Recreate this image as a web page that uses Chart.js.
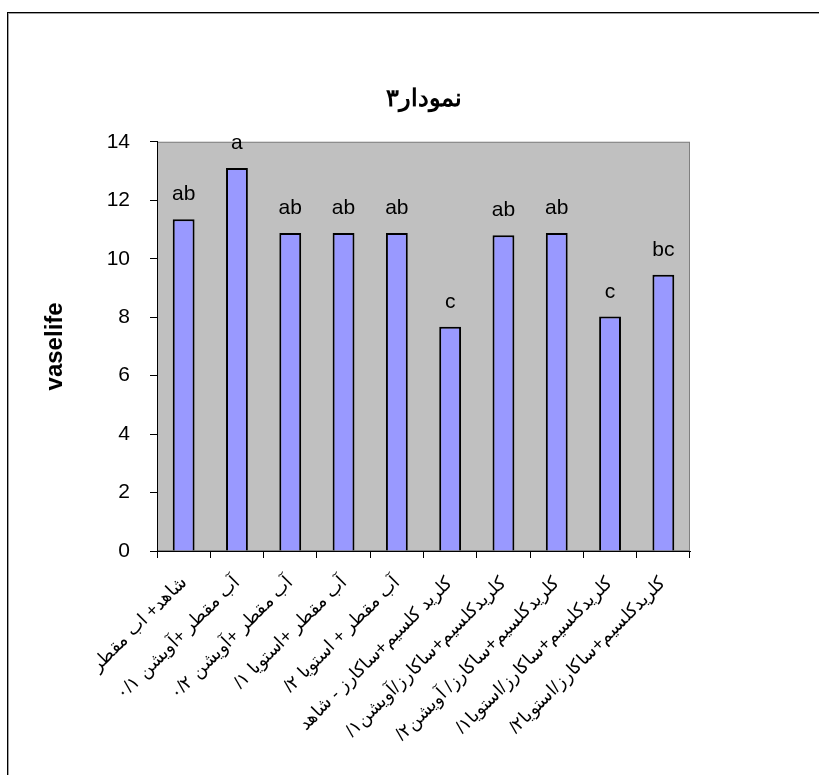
<!DOCTYPE html>
<html>
<head>
<meta charset="utf-8">
<script src="https://cdn.jsdelivr.net/npm/chart.js@4.4.0/dist/chart.umd.min.js"></script>
<style>
  html, body { margin: 0; padding: 0; overflow: hidden; background: #fff; }
  #wrap { position: relative; width: 819px; height: 775px; }
  #frame { position: absolute; left: 7px; top: 12px; width: 840px; height: 800px;
           border: 1.5px solid #000; box-shadow: inset 1px 1px 0 #a0a0a0; pointer-events: none; }
</style>
</head>
<body>
<div id="wrap">
  <canvas id="chart" width="819" height="775" dir="rtl"></canvas>
  <div id="frame"></div>
</div>
<script>
let treatments = [
  "شاهد+ اب مقطر",
  "آب مقطر +آویشن ۰/۱",
  "آب مقطر +آویشن ۰/۲",
  "آب مقطر +استویا ۱/",
  "آب مقطر + استویا ۲/",
  "کلرید کلسیم+ساکارز - شاهد",
  "کلریدکلسیم+ساکارز/آویشن۱/",
  "کلریدکلسیم+ساکارز/ آویشن۲/",
  "کلریدکلسیم+ساکارز/استویا۱/",
  "کلریدکلسیم+ساکارز/استویا۲/"
];
let vaselife = [11.35, 13.1, 10.88, 10.88, 10.88, 7.67, 10.8, 10.88, 8.02, 9.45];
let groupLetters = ["ab", "a", "ab", "ab", "ab", "c", "ab", "ab", "c", "bc"];

let plotBg = {
  id: "plotBg",
  beforeDraw(chart) {
    let a = chart.chartArea, ctx = chart.ctx;
    ctx.save();
    ctx.fillStyle = "#c0c0c0";
    ctx.fillRect(a.left, a.top, a.right - a.left, a.bottom - a.top);
    ctx.strokeStyle = "#808080";
    ctx.lineWidth = 1;
    ctx.strokeRect(a.left + 0.5, a.top + 0.5, a.right - a.left - 1, a.bottom - a.top - 1);
    ctx.restore();
  }
};

let letters = {
  id: "letters",
  afterDatasetsDraw(chart) {
    let ctx = chart.ctx;
    ctx.save();
    ctx.font = '21px "Liberation Sans", Arial, sans-serif';
    ctx.fillStyle = "#000";
    ctx.textAlign = "center";
    ctx.textBaseline = "alphabetic";
    chart.getDatasetMeta(0).data.forEach((bar, i) => {
      ctx.fillText(groupLetters[i], bar.x, bar.y - 19);
    });
    ctx.restore();
  }
};

new Chart("chart", {
  type: "bar",
  data: {
    labels: treatments,
    datasets: [{
      data: vaselife,
      backgroundColor: "#9999ff",
      borderColor: "#000",
      borderWidth: 2,
      barPercentage: 0.41,
      categoryPercentage: 1
    }]
  },
  plugins: [plotBg, letters],
  options: {
    responsive: false,
    animation: false,
    layout: { padding: { top: 85, left: 37, right: 129, bottom: 0 } },
    plugins: {
      legend: { display: false },
      tooltip: { enabled: false },
      title: {
        display: true,
        fullSize: false,
        text: "نمودار۳",
        color: "#000",
        font: { family: '"Liberation Sans", Arial, sans-serif', size: 24, weight: "bold", lineHeight: 1.2 },
        padding: { top: 0, bottom: 28 }
      }
    },
    scales: {
      x: {
        afterFit(scale) { scale.height = 224; },
        grid: { display: true, drawOnChartArea: false, offset: true, tickLength: 7, color: "#000" },
        border: { color: "#000", width: 1 },
        ticks: {
          color: "#000",
          minRotation: 45,
          maxRotation: 45,
          autoSkip: false,
          padding: 14,
          font: { family: '"Liberation Sans", Arial, sans-serif', size: 18 }
        }
      },
      y: {
        min: 0,
        max: 14,
        afterFit(scale) { scale.width = 120; },
        grid: { display: true, drawOnChartArea: false, tickLength: 7, color: "#000" },
        border: { color: "#000", width: 1 },
        ticks: {
          stepSize: 2,
          color: "#000",
          padding: 20,
          font: { family: '"Liberation Sans", Arial, sans-serif', size: 21 }
        },
        title: {
          display: true,
          text: "vaselife",
          color: "#000",
          font: { family: '"Liberation Sans", Arial, sans-serif', size: 24, weight: "bold" }
        }
      }
    }
  }
});
</script>
</body>
</html>
